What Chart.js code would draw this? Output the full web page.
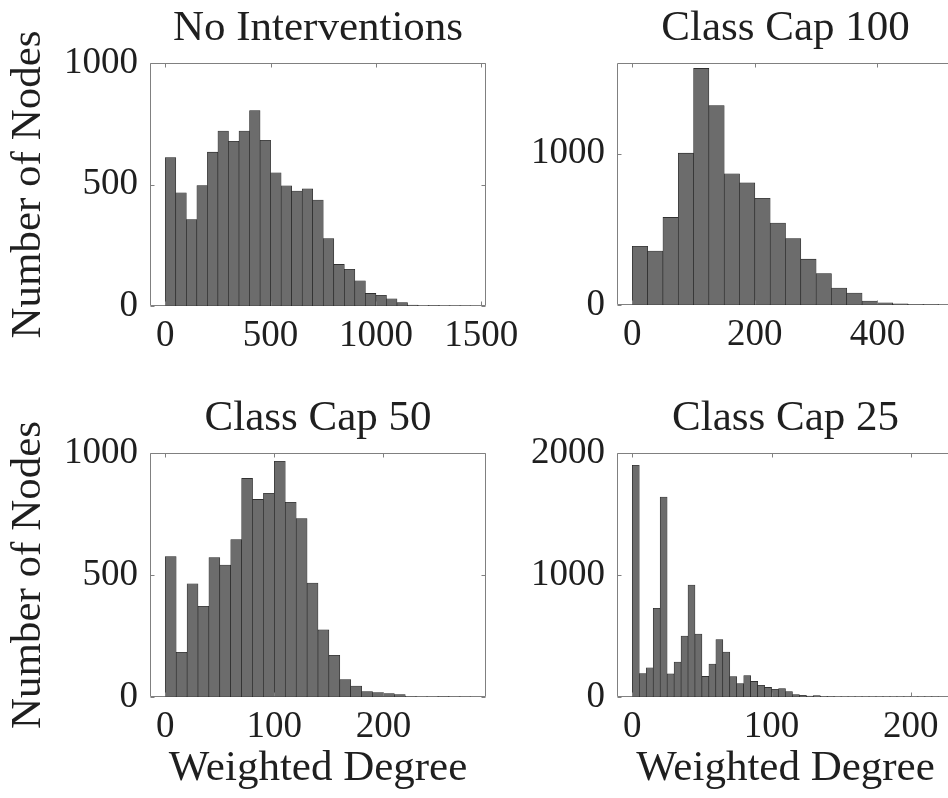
<!DOCTYPE html>
<html>
<head>
<meta charset="utf-8">
<title>Weighted degree distributions</title>
<script src="https://cdn.jsdelivr.net/npm/chart.js@4.4.1/dist/chart.umd.min.js"></script>
<style>
  html, body { margin: 0; padding: 0; background: #ffffff; width: 948px; height: 798px; overflow: hidden; }
  #fig { position: relative; width: 948px; height: 798px; overflow: hidden; }
  #fig canvas { position: absolute; }
</style>
</head>
<body>
<div id="fig">
  <canvas id="pNone" width="560" height="390" style="left:0px;top:0px"></canvas>
  <canvas id="pCap100" width="500" height="390" style="left:470px;top:0px"></canvas>
  <canvas id="pCap50" width="560" height="408" style="left:0px;top:390px"></canvas>
  <canvas id="pCap25" width="500" height="408" style="left:470px;top:390px"></canvas>
</div>
<script>
// Node counts per weighted-degree bin, one array per scenario.
const noInterventionsBinWidth = 50;
const noInterventionsCounts = [611, 466, 356, 496, 633, 720, 678, 720, 804, 682, 548, 495, 473, 482, 436,
                               277, 171, 151, 104, 52, 44, 30, 14, 4, 1, 3, 1, 1, 1];

const classCap100BinWidth = 25;
const classCap100Counts = [388, 357, 579, 1004, 1564, 1318, 868, 807, 706, 542, 439, 303, 208, 112, 79,
                           26, 15, 7, 3, 2];

const classCap50BinWidth = 10;
const classCap50Counts = [575, 183, 464, 372, 571, 541, 645, 896, 810, 835, 966, 798, 731, 467, 275,
                          171, 71, 45, 22, 18, 14, 10, 2, 1, 1, 2, 1, 1];

const classCap25BinWidth = 5;
const classCap25Counts = [1899, 191, 240, 727, 1639, 189, 287, 500, 918, 516, 169, 270, 470, 369, 167,
                          109, 175, 128, 96, 79, 63, 68, 44, 19, 14, 8, 11, 5, 3, 2,
                          2, 1, 1, 1, 1, 1, 1, 1, 1, 1, 1, 1, 1, 1];

// Tick labels for each panel
const noInterventionsXTicks = [0, 500, 1000, 1500];
const noInterventionsYTicks = [0, 500, 1000];
const classCap100XTicks = [0, 200, 400];
const classCap100YTicks = [0, 1000];
const classCap50XTicks = [0, 100, 200];
const classCap50YTicks = [0, 500, 1000];
const classCap25XTicks = [0, 100, 200];
const classCap25YTicks = [0, 1000, 2000];

const titles = ['No Interventions', 'Class Cap 100', 'Class Cap 50', 'Class Cap 25'];
const xAxisLabel = 'Weighted Degree';
const yAxisLabel = 'Number of Nodes';

// Styling
const SERIF = "'Liberation Serif', 'Times New Roman', serif";
const INK = '#1f1f1f';
const AXIS = '#808080';
const BAR_FILL = '#6c6c6c';
const BAR_EDGE = '#1e1e1e';

// Full box around the plot area with inward-pointing tick marks on all four sides
const boxPlugin = {
  id: 'boxAxes',
  afterDraw(chart, args, opts) {
    const { ctx, chartArea: a, scales } = chart;
    const L = Math.round(a.left) + 0.5, R = Math.round(a.right) - 0.5;
    const T = Math.round(a.top) + 0.5, B = Math.round(a.bottom) - 0.5;
    const len = opts.tickLength;
    ctx.save();
    ctx.strokeStyle = opts.color;
    ctx.lineWidth = 1;
    ctx.beginPath();
    ctx.moveTo(L, B); ctx.lineTo(L, T); ctx.lineTo(R, T); ctx.lineTo(R, B);
    scales.x.ticks.forEach(t => {
      const px = Math.round(scales.x.getPixelForValue(t.value)) + 0.5;
      ctx.moveTo(px, B); ctx.lineTo(px, B - len);
      ctx.moveTo(px, T); ctx.lineTo(px, T + len);
    });
    scales.y.ticks.forEach(t => {
      const py = Math.round(scales.y.getPixelForValue(t.value)) + 0.5;
      ctx.moveTo(L, py); ctx.lineTo(L + len, py);
      ctx.moveTo(R, py); ctx.lineTo(R - len, py);
    });
    ctx.stroke();
    ctx.restore();
  },
  // baseline drawn beneath the bars so their own bottom edges sit on top of it
  beforeDatasetsDraw(chart, args, opts) {
    const { ctx, chartArea: a } = chart;
    const B = Math.round(a.bottom) - 0.5;
    ctx.save();
    ctx.strokeStyle = opts.color;
    ctx.lineWidth = 1;
    ctx.beginPath();
    ctx.moveTo(Math.round(a.left) + 0.5, B);
    ctx.lineTo(Math.round(a.right) - 0.5, B);
    ctx.stroke();
    ctx.restore();
  }
};

function histogram(id, cfg) {
  const points = cfg.counts.map((c, i) => ({ x: (i + 0.5) * cfg.binWidth, y: c }));
  const tickFont = { family: SERIF, size: 37, weight: 'normal' };
  const textFont = { family: SERIF, size: 43, weight: 'normal' };
  return new Chart(document.getElementById(id), {
    type: 'bar',
    data: {
      datasets: [{
        data: points,
        backgroundColor: BAR_FILL,
        borderColor: BAR_EDGE,
        borderWidth: 0.6,
        borderSkipped: false,
        barPercentage: 1,
        categoryPercentage: 1
      }]
    },
    plugins: [boxPlugin],
    options: {
      responsive: false,
      animation: false,
      devicePixelRatio: 1,
      events: [],
      layout: { padding: { left: 0, right: cfg.padRight, top: 0, bottom: 0 } },
      plugins: {
        legend: { display: false },
        tooltip: { enabled: false },
        title: {
          display: true,
          text: cfg.title,
          fullSize: false,
          font: textFont,
          color: INK,
          padding: { top: 3, bottom: 8.4 }
        },
        boxAxes: { color: AXIS, tickLength: 4 }
      },
      scales: {
        x: {
          type: 'linear',
          offset: false,
          min: cfg.xMin,
          max: cfg.xMax,
          grid: { display: false, drawTicks: false },
          border: { display: false },
          ticks: {
            font: tickFont, color: INK, padding: 8, autoSkip: false, maxRotation: 0,
            callback: v => String(v)
          },
          afterBuildTicks: s => { s.ticks = cfg.xTicks.map(v => ({ value: v })); },
          afterFit: s => { s.height = cfg.xAxisHeight; },
          title: {
            display: !!cfg.xLabel,
            text: cfg.xLabel || '',
            font: textFont,
            color: INK,
            padding: { top: 0, bottom: 3 }
          }
        },
        y: {
          type: 'linear',
          min: 0,
          max: cfg.yMax,
          grid: { display: false, drawTicks: false },
          border: { display: false },
          ticks: {
            font: tickFont, color: INK, padding: 12, autoSkip: false,
            callback: v => String(v)
          },
          afterBuildTicks: s => { s.ticks = cfg.yTicks.map(v => ({ value: v })); },
          afterFit: s => { s.width = cfg.yAxisWidth; },
          title: {
            display: !!cfg.yLabel,
            text: cfg.yLabel || '',
            font: textFont,
            color: INK,
            padding: { top: 3, bottom: 0 }
          }
        }
      }
    }
  });
}

histogram('pNone', {
  title: titles[0], counts: noInterventionsCounts, binWidth: noInterventionsBinWidth,
  xMin: -72.5, xMax: 1522.5, yMax: 1000,
  xTicks: noInterventionsXTicks, yTicks: noInterventionsYTicks,
  yLabel: yAxisLabel, yAxisWidth: 150, xAxisHeight: 84, padRight: 74
});
histogram('pCap100', {
  title: titles[1], counts: classCap100Counts, binWidth: classCap100BinWidth,
  xMin: -25, xMax: 525, yMax: 1600,
  xTicks: classCap100XTicks, yTicks: classCap100YTicks,
  yAxisWidth: 147, xAxisHeight: 85, padRight: 16
});
histogram('pCap50', {
  title: titles[2], counts: classCap50Counts, binWidth: classCap50BinWidth,
  xMin: -14, xMax: 294, yMax: 1000,
  xTicks: classCap50XTicks, yTicks: classCap50YTicks,
  xLabel: xAxisLabel, yLabel: yAxisLabel, yAxisWidth: 150, xAxisHeight: 101, padRight: 74
});
histogram('pCap25', {
  title: titles[3], counts: classCap25Counts, binWidth: classCap25BinWidth,
  xMin: -11, xMax: 231, yMax: 2000,
  xTicks: classCap25XTicks, yTicks: classCap25YTicks,
  xLabel: xAxisLabel, yAxisWidth: 147, xAxisHeight: 101, padRight: 16
});
</script>
</body>
</html>
